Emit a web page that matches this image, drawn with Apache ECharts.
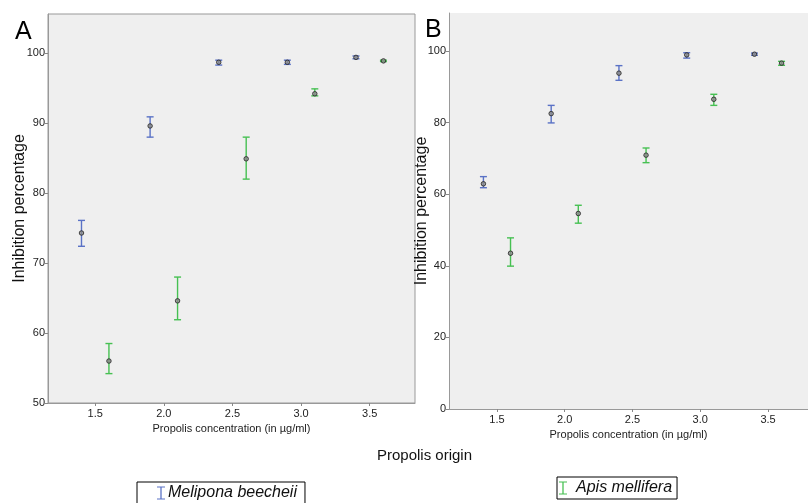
<!DOCTYPE html>
<html>
<head>
<meta charset="utf-8">
<script src="https://cdn.jsdelivr.net/npm/echarts@6/dist/echarts.min.js"></script>
<style>
  html, body { margin: 0; padding: 0; background: #fff; }
  #chart { width: 808px; height: 503px; }
</style>
</head>
<body>
<div id="chart"></div>
<script>
// concentrations (x positions are offset per origin, as in the figure)
const xMelipona = [1.4, 1.9, 2.4, 2.9, 3.4]
const xApis = [1.6, 2.1, 2.6, 3.1, 3.6]

// panel A
const meanA_mel = [74.3, 89.6, 98.7, 98.7, 99.4]
const lowA_mel = [72.4, 88.0, 98.3, 98.4, 99.2]
const highA_mel = [76.1, 90.9, 99.0, 99.0, 99.6]
const meanA_api = [56.0, 64.6, 84.9, 94.2, 98.9]
const lowA_api = [54.2, 61.9, 82.0, 93.9, 98.8]
const highA_api = [58.5, 68.0, 88.0, 94.9, 99.0]

// panel B
const meanB_mel = [62.9, 82.5, 93.8, 98.9, 99.1]
const lowB_mel = [61.8, 79.9, 91.8, 98.0, 98.8]
const highB_mel = [64.9, 84.8, 95.9, 99.5, 99.4]
const meanB_api = [43.5, 54.6, 70.9, 86.5, 96.6]
const lowB_api = [39.9, 51.9, 68.8, 84.8, 96.0]
const highB_api = [47.8, 56.9, 72.9, 87.9, 97.1]

const xTicks = [1.5, 2.0, 2.5, 3.0, 3.5]
const yTicksA = [50, 60, 70, 80, 90, 100]
const yTicksB = [0, 20, 40, 60, 80, 100]

const BLUE = '#5a72c6'
const GREEN = '#46c052'
const FONT = 'Liberation Sans, Arial, sans-serif'
const IBEAM = 'path://M0,0 L10,0 L10,1 L5.8,1 L5.8,15 L10,15 L10,16 L0,16 L0,15 L4.2,15 L4.2,1 L0,1 Z'

function errData(xs, lo, hi) {
  return xs.map((x, i) => [x, lo[i], hi[i]])
}
function ptData(xs, m) {
  return xs.map((x, i) => [x, m[i]])
}

function renderErr(params, api) {
  const x = api.value(0)
  const lo = api.coord([x, api.value(1)])
  const hi = api.coord([x, api.value(2)])
  const w = 3.5
  const style = { stroke: api.visual('color'), lineWidth: 1.4 }
  return {
    type: 'group',
    children: [
      { type: 'line', shape: { x1: lo[0], y1: lo[1], x2: hi[0], y2: hi[1] }, style },
      { type: 'line', shape: { x1: lo[0] - w, y1: lo[1], x2: lo[0] + w, y2: lo[1] }, style },
      { type: 'line', shape: { x1: hi[0] - w, y1: hi[1], x2: hi[0] + w, y2: hi[1] }, style }
    ]
  }
}

function errSeries(name, color, idx, data) {
  return {
    name: name,
    type: 'custom',
    xAxisIndex: idx,
    yAxisIndex: idx,
    renderItem: renderErr,
    itemStyle: { color: color },
    data: data,
    z: 2
  }
}
function ptSeries(idx, data) {
  return {
    type: 'scatter',
    xAxisIndex: idx,
    yAxisIndex: idx,
    symbolSize: 4.5,
    itemStyle: { color: '#8a8a8a', borderColor: '#222', borderWidth: 1 },
    data: data,
    silent: true,
    z: 3
  }
}

function xAxis(idx, min, max) {
  return {
    type: 'value',
    gridIndex: idx,
    min: min,
    max: max,
    name: 'Propolis concentration (in \u00b5g/ml)',
    nameLocation: 'middle',
    nameGap: 20,
    nameMoveOverlap: false,
    nameTextStyle: { fontSize: 11, color: '#222', fontFamily: FONT },
    axisLine: { show: true, lineStyle: { color: '#999' } },
    axisTick: { show: true, length: 3, customValues: xTicks, lineStyle: { color: '#888' } },
    axisLabel: {
      customValues: xTicks, fontSize: 11, color: '#222', margin: 5, fontFamily: FONT,
      formatter: v => v.toFixed(1)
    },
    splitLine: { show: false }
  }
}
function yAxis(idx, min, max, ticks, gap) {
  return {
    type: 'value',
    gridIndex: idx,
    min: min,
    max: max,
    name: 'Inhibition percentage',
    nameLocation: 'middle',
    nameGap: gap,
    nameMoveOverlap: false,
    nameTextStyle: { fontSize: 16, color: '#111', fontFamily: FONT },
    axisLine: { show: true, lineStyle: { color: '#999' } },
    axisTick: { show: true, length: 3, customValues: ticks, lineStyle: { color: '#888' } },
    axisLabel: { customValues: ticks, fontSize: 11, color: '#222', margin: 3, fontFamily: FONT },
    splitLine: { show: false }
  }
}

const chart = echarts.init(document.getElementById('chart'))
chart.setOption({
  animation: false,
  textStyle: { fontFamily: FONT },
  title: [
    { text: 'A', left: 10, top: 15, textStyle: { fontSize: 25, fontWeight: 'normal', color: '#000' } },
    { text: 'B', left: 420, top: 13, textStyle: { fontSize: 25, fontWeight: 'normal', color: '#000' } },
    { text: 'Propolis origin', left: 372, top: 443, textStyle: { fontSize: 15, fontWeight: 'normal', color: '#111' } }
  ],
  grid: [
    { left: 48, right: 393, top: 14, bottom: 100, show: true, backgroundColor: '#efefef', borderColor: '#999', borderWidth: 1 },
    { left: 449, right: 0, top: 13, bottom: 94, show: true, backgroundColor: '#efefef', borderWidth: 0 }
  ],
  xAxis: [xAxis(0, 1.156, 3.83), xAxis(1, 1.146, 3.795)],
  yAxis: [yAxis(0, 50, 105.6, yTicksA, 20), yAxis(1, 0, 110.6, yTicksB, 19)],
  legend: [
    {
      data: ['Melipona beecheii'], left: 137, top: 482,
      icon: IBEAM, itemWidth: 8, itemHeight: 14,
      padding: [3, 8, 6, 20], borderColor: '#000', borderWidth: 1,
      textStyle: { fontSize: 16, fontStyle: 'italic', color: '#111', padding: [0, 0, 0, -2] },
      selectedMode: false
    },
    {
      data: ['Apis mellifera'], left: 557, top: 477,
      icon: IBEAM, itemWidth: 8, itemHeight: 14,
      padding: [3, 5, 3, 2], borderColor: '#000', borderWidth: 1,
      textStyle: { fontSize: 16, fontStyle: 'italic', color: '#111', padding: [0, 0, 0, 4] },
      selectedMode: false
    }
  ],
  series: [
    errSeries('Melipona beecheii', BLUE, 0, errData(xMelipona, lowA_mel, highA_mel)),
    errSeries('Apis mellifera', GREEN, 0, errData(xApis, lowA_api, highA_api)),
    ptSeries(0, ptData(xMelipona, meanA_mel)),
    ptSeries(0, ptData(xApis, meanA_api)),
    errSeries('Melipona beecheii', BLUE, 1, errData(xMelipona, lowB_mel, highB_mel)),
    errSeries('Apis mellifera', GREEN, 1, errData(xApis, lowB_api, highB_api)),
    ptSeries(1, ptData(xMelipona, meanB_mel)),
    ptSeries(1, ptData(xApis, meanB_api))
  ]
})
</script>
</body>
</html>
